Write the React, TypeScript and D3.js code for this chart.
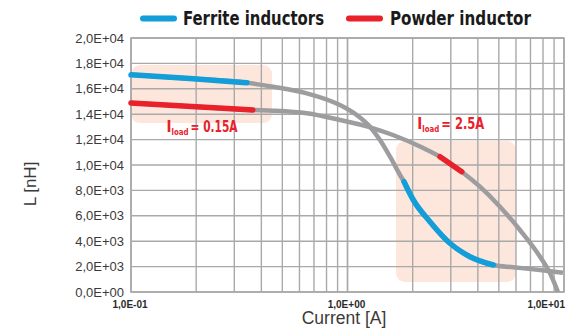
import React from 'react';
import * as d3 from 'd3';

// ferrite curve (current in A, inductance in nH)
const ferriteCurrent = [0.1, 0.187, 0.343, 0.453, 0.648, 0.923, 1.103, 1.27, 1.413, 1.572, 1.748, 1.824, 2.014, 2.404, 2.974, 3.68, 4.715, 5.83, 7.75, 9.89];
const ferriteL = [17100, 16810, 16480, 16165, 15646, 14724, 13937, 13016, 11969, 10654, 9213, 8685, 7244, 5535, 3835, 2780, 2126, 1945, 1732, 1520];
// highlighted index ranges on the ferrite curve
const ferriteHighlights = [[0, 2], [11, 16]];

// powder curve
const powderCurrent = [0.1, 0.2, 0.365, 0.453, 0.648, 0.923, 1.316, 1.622, 2.2, 2.675, 3.37, 4.09, 5.06, 6.26, 7.75, 8.62, 9.38];
const powderL = [14880, 14590, 14330, 14276, 14071, 13543, 12890, 12362, 11400, 10654, 9472, 8291, 6717, 4882, 2780, 1472, 0];
const powderHighlights = [[0, 2], [9, 10]];

const yTicks = [0, 2000, 4000, 6000, 8000, 10000, 12000, 14000, 16000, 18000, 20000];
const yTickLabels = ['0,0E+00', '2,0E+03', '4,0E+03', '6,0E+03', '8,0E+03', '1,0E+04', '1,2E+04', '1,4E+04', '1,6E+04', '1,8E+04', '2,0E+04'];
const xTicks = [0.1, 1, 10];
const xTickLabels = ['1,0E-01', '1,0E+00', '1,0E+01'];

// load-current annotations
const loadBoxes = [
  { x0: 0.1, x1: 0.448, y0: 13300, y1: 17870 },
  { x0: 1.675, x1: 6.0, y0: 790, y1: 11890 },
];
const loadLabels = [
  { x: 0.146, y: 12620, value: '= 0.15A', width: 47 },
  { x: 2.1, y: 12835, value: '= 2.5A', width: 43 },
];

const W = 578;
const H = 329;
const left = 131, right = 564, top = 38, bottom = 292;

const BLUE = '#129ed9';
const RED = '#e8212b';
const GRAY = '#9d9d9f';
const GRID = '#a9a9a9';

type Pt = [number, number];

const App: React.FC = () => {
  const x = d3.scaleLog().domain([0.1, 10]).range([left, right]);
  const y = d3.scaleLinear().domain([0, 20000]).range([bottom, top]);

  const line = d3.line<Pt>()
    .x(d => x(d[0]))
    .y(d => y(d[1]))
    .curve(d3.curveMonotoneX);

  const ferrite: Pt[] = ferriteCurrent.map((c, i) => [c, ferriteL[i]]);
  const powder: Pt[] = powderCurrent.map((c, i) => [c, powderL[i]]);

  const vGrid: number[] = [];
  for (let dec = 0.1; dec < 10; dec *= 10) {
    for (let k = 1; k <= 10; k++) vGrid.push(+(dec * k).toPrecision(3));
  }

  const font = "'Liberation Sans', Arial, sans-serif";
  const condensed = "'Liberation Sans Narrow', 'DejaVu Sans Condensed', 'Liberation Sans', Arial, sans-serif";

  return (
    <div style={{ position: 'fixed', left: 0, top: 0 }}>
      <svg width={W} height={H} style={{ display: 'block', background: '#fff' }}>
        {/* legend */}
        <line x1={143} x2={174} y1={18.5} y2={18.5} stroke={BLUE} strokeWidth={6} strokeLinecap="round" />
        <text x={183} y={25} fontFamily={condensed} fontWeight="bold" fontSize={19} fill="#1a1a1a"
          textLength={141} lengthAdjust="spacingAndGlyphs">Ferrite inductors</text>
        <line x1={349} x2={380} y1={18.5} y2={18.5} stroke={RED} strokeWidth={6} strokeLinecap="round" />
        <text x={390} y={25} fontFamily={condensed} fontWeight="bold" fontSize={19} fill="#1a1a1a"
          textLength={141} lengthAdjust="spacingAndGlyphs">Powder inductor</text>

        {/* load boxes */}
        {loadBoxes.map((b, i) => (
          <rect key={i} x={x(b.x0)} y={y(b.y1)} width={x(b.x1) - x(b.x0)} height={y(b.y0) - y(b.y1)}
            rx={9} fill="#fde6dc" />
        ))}

        {/* grid */}
        {vGrid.map((v, i) => (
          <line key={'v' + i} x1={x(v)} x2={x(v)} y1={top} y2={bottom} stroke={GRID} strokeWidth={1.4} />
        ))}
        {yTicks.map((v, i) => (
          <line key={'h' + i} x1={left} x2={right} y1={y(v)} y2={y(v)} stroke={GRID} strokeWidth={1.4} />
        ))}
        <rect x={left} y={top} width={right - left} height={bottom - top} fill="none" stroke={GRID} strokeWidth={1.6} />

        {/* curves */}
        <path d={line(ferrite) || ''} fill="none" stroke={GRAY} strokeWidth={4.5} />
        <path d={line(powder) || ''} fill="none" stroke={GRAY} strokeWidth={4.5} />
        {ferriteHighlights.map(([a, b], i) => (
          <path key={'fh' + i} d={line(ferrite.slice(a, b + 1)) || ''} fill="none" stroke={BLUE}
            strokeWidth={5.5} strokeLinecap="round" />
        ))}
        {powderHighlights.map(([a, b], i) => (
          <path key={'ph' + i} d={line(powder.slice(a, b + 1)) || ''} fill="none" stroke={RED}
            strokeWidth={5.5} strokeLinecap="round" />
        ))}

        {/* load labels */}
        {loadLabels.map((l, i) => (
          <g key={'l' + i} fontFamily={condensed} fontWeight="bold" fill={RED}>
            <text x={x(l.x)} y={y(l.y)} fontSize={15}>I</text>
            <text x={x(l.x) + 5} y={y(l.y) + 3} fontSize={8.5} textLength={17} lengthAdjust="spacingAndGlyphs">load</text>
            <text x={x(l.x) + 24} y={y(l.y)} fontSize={15} textLength={l.width} lengthAdjust="spacingAndGlyphs">{l.value}</text>
          </g>
        ))}

        {/* y axis labels */}
        {yTicks.map((v, i) => (
          <text key={'yt' + i} x={124} y={y(v)} dy="0.35em" textAnchor="end" fontFamily={font} fontSize={13} fill="#3a3a3a">
            {yTickLabels[i]}
          </text>
        ))}
        {/* x axis labels */}
        {xTicks.map((v, i) => (
          <text key={'xt' + i} x={i === xTicks.length - 1 ? x(v) + 1 : x(v) - 1} y={307.5}
            textAnchor={i === xTicks.length - 1 ? 'end' : 'middle'} fontFamily={font} fontWeight="bold" fontSize={10} fill="#2a2a2a">
            {xTickLabels[i]}
          </text>
        ))}

        <text x={344} y={324} textAnchor="middle" fontFamily={font} fontSize={17.5} fill="#3a3a3a">Current [A]</text>
        <text transform="translate(36,184) rotate(-90)" textAnchor="middle" fontFamily={font} fontSize={17} fill="#3a3a3a">L [nH]</text>
      </svg>
    </div>
  );
};

export default App;
